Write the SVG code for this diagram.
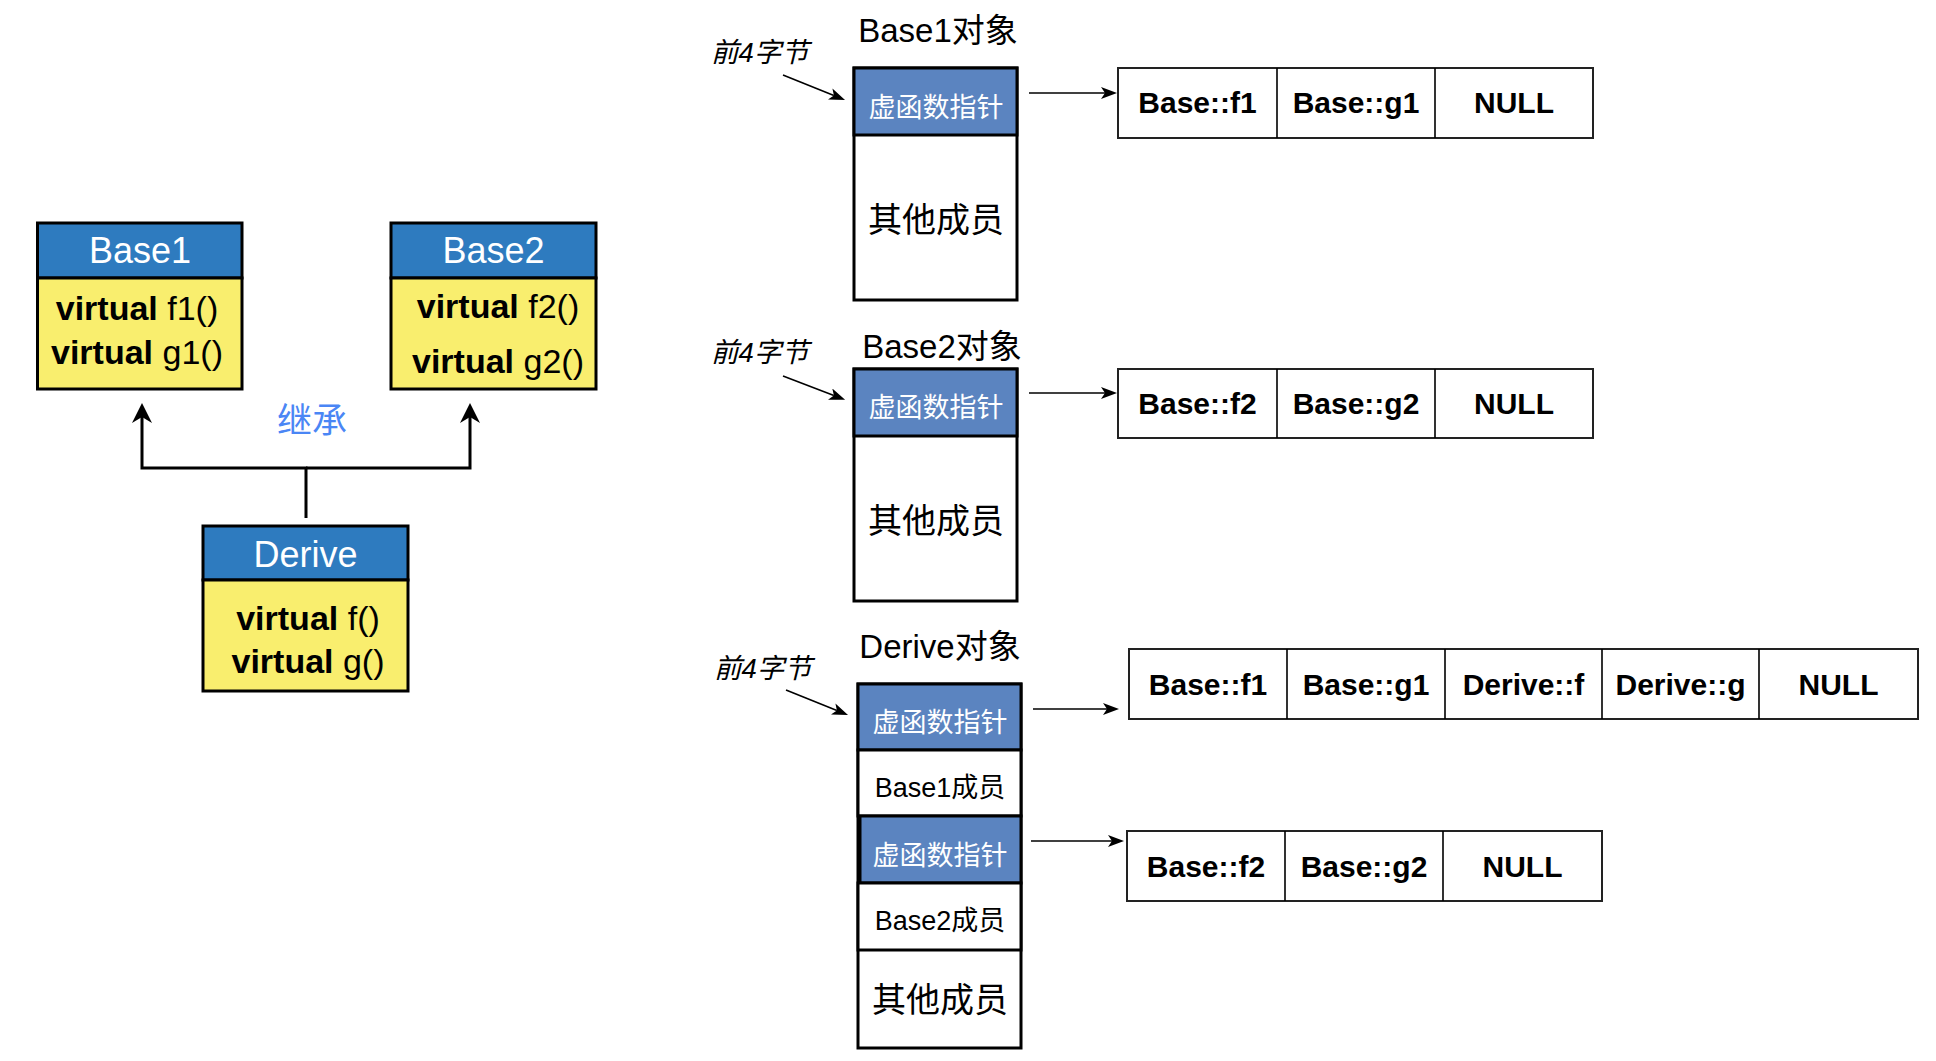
<svg xmlns="http://www.w3.org/2000/svg" width="1936" height="1061" viewBox="0 0 1936 1061">
<style>
text{font-family:"Liberation Sans","Noto Sans CJK SC",sans-serif;fill:#000}
.hd{fill:#2E7BBF;stroke:#000;stroke-width:3}
.bd{fill:#F9EE6E;stroke:#000;stroke-width:3}
.ht{fill:#fff;font-size:36px;text-anchor:middle}
.mt{font-size:34px;text-anchor:middle}
.mt tspan.b{font-weight:bold}
.ob{fill:#fff;stroke:#000;stroke-width:3}
.vp{fill:#5B84C0;stroke:#000;stroke-width:3}
.vpt{fill:#fff;font-size:27px;text-anchor:middle}
.oth{font-size:34px;text-anchor:middle}
.mem{font-size:27px;text-anchor:middle}
.lbl{font-size:33px;text-anchor:middle}
.f4{font-size:27.5px;font-style:italic}
.tb{fill:#fff;stroke:#222;stroke-width:2}
.tt{font-size:30px;font-weight:bold;text-anchor:middle}
.inh{fill:none;stroke:#000;stroke-width:3;stroke-linejoin:miter}
.thin{fill:none;stroke:#000;stroke-width:1.6}
</style>
<defs>
<marker id="big" viewBox="0 0 20 20" refX="6" refY="10" markerWidth="20" markerHeight="20" markerUnits="userSpaceOnUse" orient="auto"><path d="M0,0 L20,10 L0,20 L6,10 Z" fill="#000"/></marker>
<marker id="sm" viewBox="0 0 16 12" refX="4" refY="6" markerWidth="16" markerHeight="12" markerUnits="userSpaceOnUse" orient="auto"><path d="M0,0 L16,6 L0,12 L4,6 Z" fill="#000"/></marker>
</defs>

<g id="base1">
<rect class="hd" x="37.5" y="223" width="204.5" height="55"/>
<rect class="bd" x="37.5" y="278" width="204.5" height="111"/>
<text class="ht" x="140" y="263">Base1</text>
<text class="mt" x="137" y="320"><tspan class="b">virtual</tspan> f1()</text>
<text class="mt" x="137" y="364"><tspan class="b">virtual</tspan> g1()</text>
</g>
<g id="base2">
<rect class="hd" x="391" y="223" width="205" height="55"/>
<rect class="bd" x="391" y="278" width="205" height="111"/>
<text class="ht" x="493.5" y="263">Base2</text>
<text class="mt" x="498" y="318"><tspan class="b">virtual</tspan> f2()</text>
<text class="mt" x="498" y="373"><tspan class="b">virtual</tspan> g2()</text>
</g>
<g id="derive">
<rect class="hd" x="203" y="526" width="205" height="54"/>
<rect class="bd" x="203" y="580" width="205" height="111"/>
<text class="ht" x="305.5" y="567">Derive</text>
<text class="mt" x="308" y="630"><tspan class="b">virtual</tspan> f()</text>
<text class="mt" x="308" y="673"><tspan class="b">virtual</tspan> g()</text>
</g>
<text id="inherit-label" x="312" y="433" font-size="35" style="fill:#4A86F5;text-anchor:middle">继承</text>

<g id="obj1">
<text class="lbl" x="938" y="42">Base1对象</text>
<text class="f4" x="711" y="62">前4字节</text>
<rect class="ob" x="854" y="68" width="163" height="232"/>
<rect class="vp" x="854" y="68" width="163" height="67"/>
<text class="vpt" x="936" y="117">虚函数指针</text>
<text class="oth" x="936" y="232">其他成员</text>
</g>
<g id="obj2">
<text class="lbl" x="942" y="358">Base2对象</text>
<text class="f4" x="711" y="362">前4字节</text>
<rect class="ob" x="854" y="369" width="163" height="232"/>
<rect class="vp" x="854" y="369" width="163" height="67"/>
<text class="vpt" x="936" y="417">虚函数指针</text>
<text class="oth" x="936" y="533">其他成员</text>
</g>
<g id="obj3">
<text class="lbl" x="940" y="658">Derive对象</text>
<text class="f4" x="714" y="678">前4字节</text>
<rect class="ob" x="858" y="684" width="163" height="364"/>
<rect class="vp" x="858" y="684" width="163" height="66"/>
<text class="vpt" x="940" y="732">虚函数指针</text>
<rect class="ob" x="858" y="750" width="163" height="66"/>
<text class="mem" x="940" y="797">Base1成员</text>
<rect class="vp" x="860" y="816" width="161" height="67"/>
<text class="vpt" x="940" y="865">虚函数指针</text>
<rect class="ob" x="858" y="883" width="163" height="67"/>
<text class="mem" x="940" y="930">Base2成员</text>
<text class="oth" x="940" y="1012">其他成员</text>
</g>

<g id="vt1">
<rect class="tb" x="1118" y="68" width="475" height="70"/>
<path class="thin" d="M1277,68 V138 M1435,68 V138" stroke="#222" stroke-width="2"/>
<text class="tt" x="1197.5" y="113">Base::f1</text>
<text class="tt" x="1356" y="113">Base::g1</text>
<text class="tt" x="1514" y="113">NULL</text>
</g>
<g id="vt2">
<rect class="tb" x="1118" y="369" width="475" height="69"/>
<path class="thin" d="M1277,369 V438 M1435,369 V438" stroke="#222" stroke-width="2"/>
<text class="tt" x="1197.5" y="414">Base::f2</text>
<text class="tt" x="1356" y="414">Base::g2</text>
<text class="tt" x="1514" y="414">NULL</text>
</g>
<g id="vt3">
<rect class="tb" x="1129" y="649" width="789" height="70"/>
<path class="thin" d="M1287,649 V719 M1445,649 V719 M1602,649 V719 M1759,649 V719" stroke="#222" stroke-width="2"/>
<text class="tt" x="1208" y="695">Base::f1</text>
<text class="tt" x="1366" y="695">Base::g1</text>
<text class="tt" x="1523.5" y="695">Derive::f</text>
<text class="tt" x="1680.5" y="695">Derive::g</text>
<text class="tt" x="1838.5" y="695">NULL</text>
</g>
<g id="vt4">
<rect class="tb" x="1127" y="831" width="475" height="70"/>
<path class="thin" d="M1285,831 V901 M1443,831 V901" stroke="#222" stroke-width="2"/>
<text class="tt" x="1206" y="877">Base::f2</text>
<text class="tt" x="1364" y="877">Base::g2</text>
<text class="tt" x="1522.5" y="877">NULL</text>
</g>

<g id="connectors">
<path class="inh" d="M306,518 V468 H142 V417" marker-end="url(#big)"/>
<path class="inh" d="M306,468 H470 V417" marker-end="url(#big)"/>
<path class="thin" d="M783,75 L833.9,95.5" marker-end="url(#sm)"/>
<path class="thin" d="M783,376 L833.9,395.5" marker-end="url(#sm)"/>
<path class="thin" d="M786,690 L836.9,710.5" marker-end="url(#sm)"/>
<path class="thin" d="M1029,93 H1105" marker-end="url(#sm)"/>
<path class="thin" d="M1029,393 H1105" marker-end="url(#sm)"/>
<path class="thin" d="M1033,709 H1107" marker-end="url(#sm)"/>
<path class="thin" d="M1031,841 H1112" marker-end="url(#sm)"/>
</g>
</svg>
